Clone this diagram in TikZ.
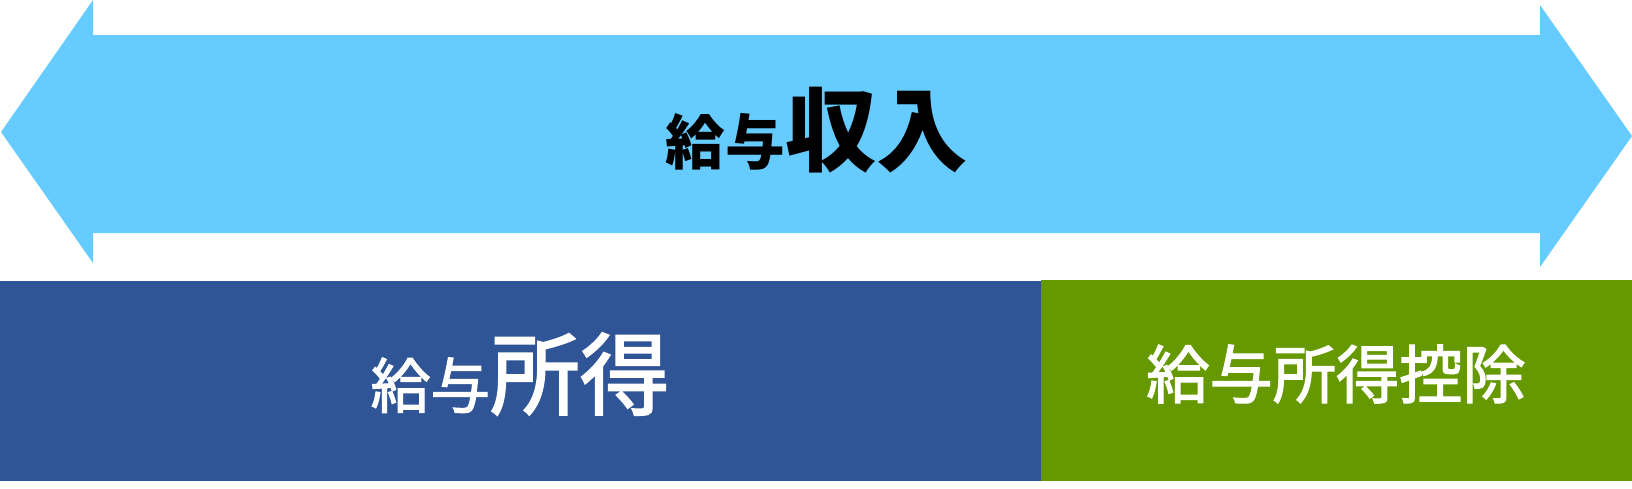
\documentclass[tikz,border=0pt]{standalone}
\usepackage{fontspec}
\newfontfamily\cjk{Noto Sans CJK JP}
\newfontfamily\cjkthick[FakeBold=2]{Noto Sans CJK JP}
\usepackage{tikz}
\usetikzlibrary{calc}
\definecolor{arrowblue}{HTML}{66CCFF}
\definecolor{boxblue}{HTML}{2F5597}
\definecolor{boxgreen}{HTML}{669900}
\tikzset{jtext/.style={inner sep=0pt,font=\cjk},
         wtext/.style={inner sep=0pt,font=\cjkthick,text=white}}
\begin{document}
\begin{tikzpicture}[x=0.02cm,y=-0.02cm]
                      \useasboundingbox (0,0) rectangle (1632,488);
                      \fill[arrowblue] (1,132) -- (93,0) -- (93,35) -- (1540,35) -- (1540,5)
                            -- (1632,136) -- (1540,267) -- (1540,233) -- (93,233) -- (93,263) -- cycle;
                      \fill[boxblue] (0,281) rectangle (1041,481);
                      \fill[boxgreen] (1041,280) rectangle (1632,481);
                      \node[jtext,text=black](income)at(817,130){\bfseries\fontsize{34}{34}\selectfont 給与\fontsize{52}{52}\selectfont 収入};
                      \node[wtext](earn)at(520,374){\fontsize{34}{34}\selectfont 給与\fontsize{51}{51}\selectfont 所得};
                      \node[wtext](deduct)at(1336,374){\fontsize{36}{36}\selectfont 給与所得控除};
                  \end{tikzpicture}
\end{document}
